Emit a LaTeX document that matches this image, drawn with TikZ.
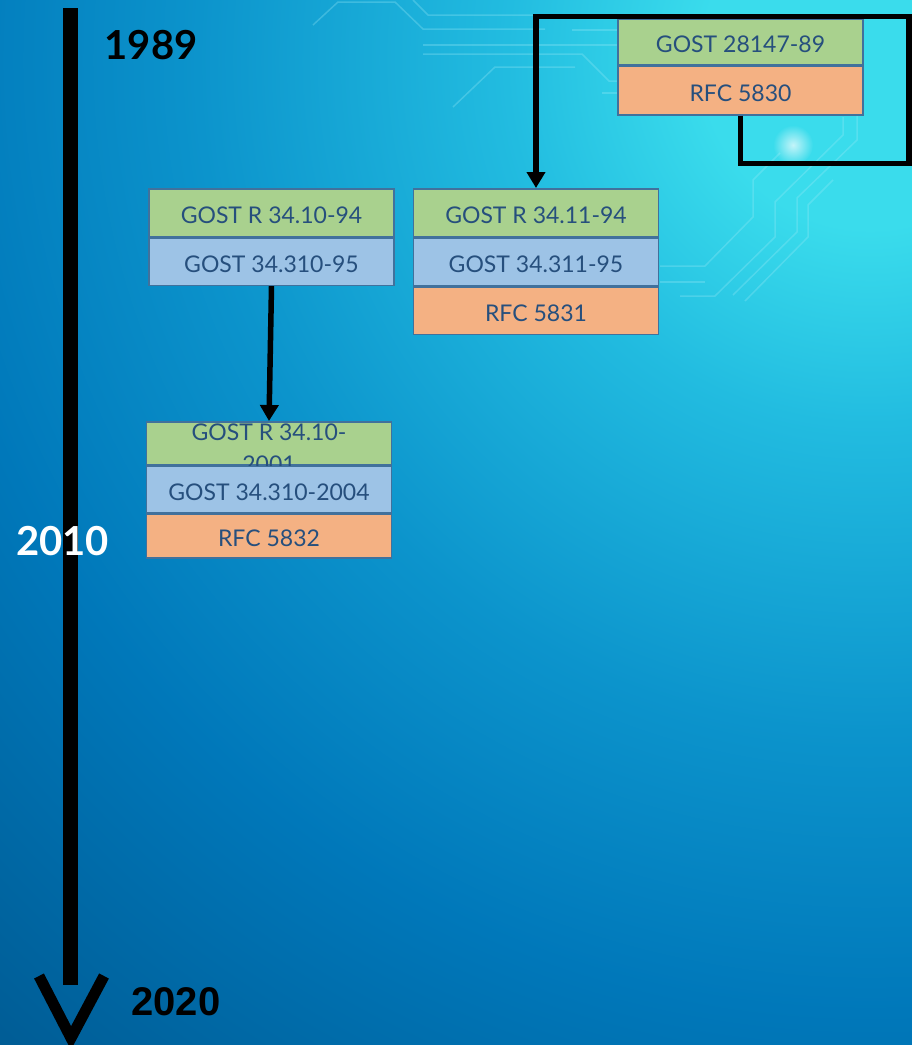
\documentclass[tikz,border=0pt]{standalone}
\usepackage{fontspec}
\setmainfont{Lato}
\newfontfamily\arialfont{Liberation Sans}
\usetikzlibrary{positioning,arrows.meta,fadings}

\definecolor{cellgreen}{HTML}{A9D18E}
\definecolor{cellblue}{HTML}{9DC3E6}
\definecolor{cellorange}{HTML}{F4B183}
\definecolor{celledge}{HTML}{41719C}
\definecolor{celltext}{HTML}{264F7D}
\definecolor{bgA}{HTML}{3ADCEC}
\definecolor{bgB}{HTML}{22BCE0}
\definecolor{bgC}{HTML}{0C94CC}
\definecolor{bgD}{HTML}{0078BA}
\definecolor{bgE}{HTML}{005A92}
\definecolor{trace}{HTML}{9BEAF7}

\pgfdeclareradialshading{bgglow}{\pgfpoint{0bp}{0bp}}{color(0bp)=(bgA); color(3bp)=(bgA); color(6.5bp)=(bgB); color(12bp)=(bgC); color(17bp)=(bgD); color(24bp)=(bgE); color(50bp)=(bgE)}
\tikzfading[name=glowfade, inner color=transparent!0, outer color=transparent!100]

\begin{document}
\begin{tikzpicture}[
    x=1pt, y=-1pt,
    cell/.style={rectangle, draw=celledge, line width=1.6pt, anchor=north,
                 minimum width=245pt, minimum height=47.5pt, inner sep=0pt,
                 text height=21pt, text depth=0pt,
                 text=celltext, font=\fontsize{23}{28}\selectfont},
    celltxt/.style={text=celltext, font=\fontsize{23}{32}\selectfont,
                    align=center, inner sep=0pt},
    conn/.style={-{Triangle[width=18pt,length=16pt]}, line width=5.5pt},
    trace line/.style={draw=trace, line width=1.5pt, opacity=0.3},
    yearlbl/.style={font=\bfseries\fontsize{40}{40}\selectfont, inner sep=0pt}
]
\useasboundingbox (0,0) rectangle (912,1045);

% background
\begin{scope}
\clip (0,0) rectangle (912,1045);
\shade[shading=bgglow] (870,60) circle[radius=1400pt];
\draw[trace line] (313,25) -- (338,2) -- (395,2) -- (423,29) -- (545,29);
\draw[trace line] (413,0) -- (428,15) -- (617,15);
\draw[trace line] (423,45) -- (617,45);
\draw[trace line] (423,54) -- (582,54) -- (609,81) -- (617,81);
\draw[trace line] (453,107) -- (495,67) -- (575,67);
\draw[trace line] (572,30) -- (617,30);
\draw[trace line] (602,93) -- (617,93);
\draw[trace line] (660,266) -- (705,266) -- (753,217) -- (753,180) -- (780,153);
\draw[trace line] (660,282) -- (705,282);
\draw[trace line] (680,296) -- (715,296) -- (775,237) -- (775,202) -- (843,135) -- (843,117);
\draw[trace line] (733,295) -- (797,232) -- (797,198) -- (857,140) -- (857,110);
\draw[trace line] (745,301) -- (808,237) -- (808,205) -- (833,180);
\fill[white, opacity=0.7, path fading=glowfade] (793,145) circle[radius=20pt];
\end{scope}

% timeline
\coordinate (tlTop) at (70,8);
\coordinate (tlEnd) at (70,985);
\coordinate (vLeft) at (39,976);
\coordinate (vTip) at (71,1038);
\coordinate (vRight) at (104,976);
\draw[line width=15pt] (tlTop) -- (tlEnd);
\draw[line width=11pt] (vLeft) -- (vTip) -- (vRight);

\node[yearlbl] (y1989) at (151,45) {1989};
\node[yearlbl, text=white] (y2010) at (62.5,541) {2010};
\node[yearlbl, font=\arialfont\bfseries\fontsize{40}{40}\selectfont] (y2020) at (176,1002) {2020};

% standards
\node[cell, fill=cellgreen, minimum height=45.5pt] (g2814789) at (740.5,18.5) {GOST 28147-89};
\node[cell, fill=cellorange, minimum height=48.5pt, below=0pt of g2814789] (rfc5830) {RFC 5830};

\node[cell, fill=cellgreen] (g341094) at (271.5,188) {GOST R 34.10-94};
\node[cell, fill=cellblue, below=0pt of g341094] (g3431095) {GOST 34.310-95};

\node[cell, fill=cellgreen] (g341194) at (536,188) {GOST R 34.11-94};
\node[cell, fill=cellblue, below=0pt of g341194] (g3431195) {GOST 34.311-95};
\node[cell, fill=cellorange, below=0pt of g3431195] (rfc5831) {RFC 5831};

\node[cell, fill=cellgreen, minimum height=43pt] (g341001) at (269,421) {};
\node[celltxt] (g341001txt) at (269,448) {GOST R 34.10-\\2001};
\node[cell, fill=cellblue, minimum height=46.5pt, below=0pt of g341001] (g34312004) {GOST 34.310-2004};
\node[cell, fill=cellorange, minimum height=43.5pt, below=0pt of g34312004] (rfc5832) {RFC 5832};

% links
\coordinate (loopBR) at (909,163.5);
\coordinate (loopTR) at (909,16.5);
\draw[conn] (rfc5830.south) |- (loopBR) -- (loopTR) -| (g341194.north);
\draw[conn] (g3431095.south) -- (g341001.north);
\end{tikzpicture}
\end{document}
